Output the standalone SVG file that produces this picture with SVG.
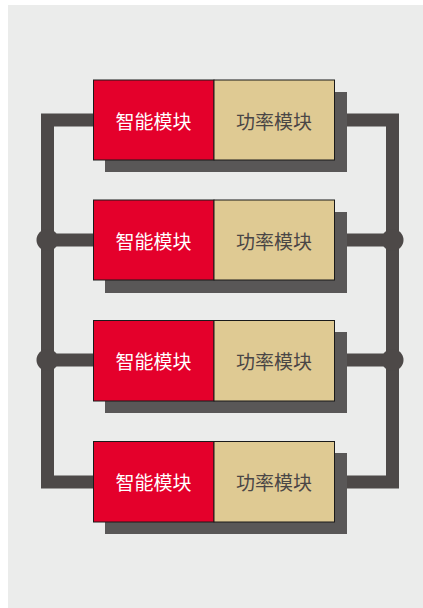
<svg xmlns="http://www.w3.org/2000/svg" width="423" height="608" viewBox="0 0 423 608">
<defs>
<style>
.shadow{fill:#595757}
.red{fill:#E4002B;stroke:#1a1a1a;stroke-width:1}
.tan{fill:#DFCA93;stroke:#1a1a1a;stroke-width:1}
.wire{fill:none;stroke:#4D4948;stroke-width:13;stroke-linejoin:miter}
.dot{fill:#4D4948}
.t{font-family:"Noto Sans CJK SC","Noto Sans",sans-serif;font-size:19px;text-anchor:middle;dominant-baseline:central}
.tw{fill:#ffffff}
.td{fill:#4a4646}
</style>
</defs>
<rect x="8" y="5" width="415" height="603" fill="#EBECEB"/>
<g id="connectors">
<polyline class="wire" points="93,120 47.5,120 47.5,482 93,482"/>
<polyline class="wire" points="346,120 392.5,120 392.5,482 346,482"/>
<line class="wire" x1="47.5" y1="240" x2="93" y2="240"/>
<line class="wire" x1="47.5" y1="360" x2="93" y2="360"/>
<line class="wire" x1="346" y1="240" x2="392.5" y2="240"/>
<line class="wire" x1="346" y1="360" x2="392.5" y2="360"/>
<circle class="dot" cx="47.5" cy="240" r="11"/>
<circle class="dot" cx="47.5" cy="360" r="11"/>
<circle class="dot" cx="392.5" cy="240" r="11"/>
<circle class="dot" cx="392.5" cy="360" r="11"/>
</g>
<g id="node1">
<rect class="shadow" x="105" y="92" width="242" height="80"/>
<rect class="red" x="93.5" y="80" width="120.5" height="80"/>
<rect class="tan" x="214" y="80" width="120.5" height="80"/>
<text class="t tw" x="153.5" y="120">智能模块</text>
<text class="t td" x="274" y="120">功率模块</text>
</g>
<g id="node2">
<rect class="shadow" x="105" y="212" width="242" height="81"/>
<rect class="red" x="93.5" y="200" width="120.5" height="80"/>
<rect class="tan" x="214" y="200" width="120.5" height="80"/>
<text class="t tw" x="153.5" y="240">智能模块</text>
<text class="t td" x="274" y="240">功率模块</text>
</g>
<g id="node3">
<rect class="shadow" x="105" y="332" width="242" height="81"/>
<rect class="red" x="93.5" y="320.5" width="120.5" height="80.5"/>
<rect class="tan" x="214" y="320.5" width="120.5" height="80.5"/>
<text class="t tw" x="153.5" y="360.5">智能模块</text>
<text class="t td" x="274" y="360.5">功率模块</text>
</g>
<g id="node4">
<rect class="shadow" x="105" y="453" width="242" height="81"/>
<rect class="red" x="93.5" y="441.5" width="120.5" height="80.5"/>
<rect class="tan" x="214" y="441.5" width="120.5" height="80.5"/>
<text class="t tw" x="153.5" y="481.5">智能模块</text>
<text class="t td" x="274" y="481.5">功率模块</text>
</g>
</svg>
